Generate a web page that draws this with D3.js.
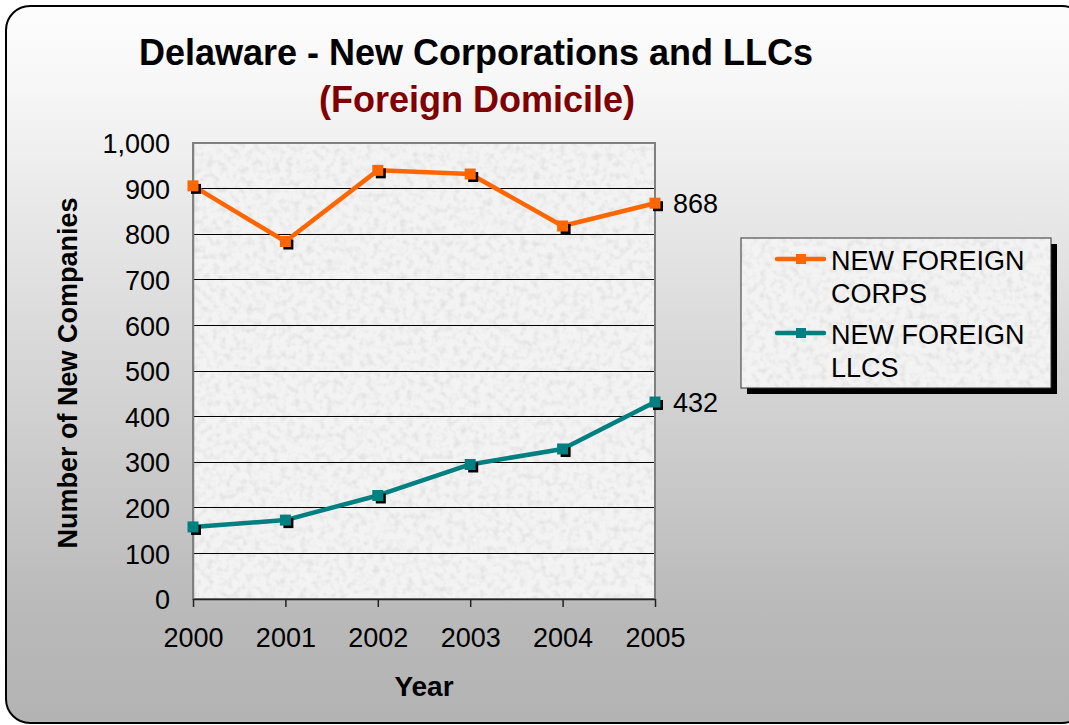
<!DOCTYPE html>
<html><head><meta charset="utf-8">
<script src="https://cdn.jsdelivr.net/npm/d3@7"></script>
<style>body{margin:0;background:#fff;}svg{display:block;font-family:"Liberation Sans",Arial,sans-serif;}</style>
</head><body>
<script>
const years = [2000, 2001, 2002, 2003, 2004, 2005];
const corps = [906, 784, 940, 932, 818, 868];
const llcs = [158, 173, 227, 295, 329, 432];
const yTicks = [0,100,200,300,400,500,600,700,800,900,1000];
const seriesNames = [["NEW FOREIGN","CORPS"],["NEW FOREIGN","LLCS"]];
const seriesColors = ["#ff6600","#008080"];

const W=1069,H=725;
const FS=27;
const svg=d3.select("body").append("svg").attr("width",W).attr("height",H);
const defs=svg.append("defs");
const g=defs.append("linearGradient").attr("id","bg").attr("x1",0).attr("y1",0).attr("x2",0).attr("y2",1);
g.append("stop").attr("offset","0%").attr("stop-color","#fdfdfd");
g.append("stop").attr("offset","12%").attr("stop-color","#f6f6f6");
g.append("stop").attr("offset","85%").attr("stop-color","#b9b9b9");
g.append("stop").attr("offset","100%").attr("stop-color","#b3b3b3");

const f=defs.append("filter").attr("id","noise").attr("x",0).attr("y",0).attr("width","100%").attr("height","100%");
f.append("feTurbulence").attr("type","fractalNoise").attr("baseFrequency","0.15").attr("numOctaves",2).attr("seed",3).attr("result","t");
f.append("feColorMatrix").attr("in","t").attr("type","matrix")
 .attr("values","0 0 0 0 0.6  0 0 0 0 0.6  0 0 0 0 0.6  0 0 0 -1.1 0.62").attr("result","n");
f.append("feFlood").attr("flood-color","#f3f3f3").attr("result","fl");
f.append("feComposite").attr("in","n").attr("in2","fl").attr("operator","over").attr("result","c");
f.append("feComposite").attr("in","c").attr("in2","SourceGraphic").attr("operator","in");

svg.append("rect").attr("x",6).attr("y",6).attr("width",1080).attr("height",717).attr("rx",24)
 .attr("fill","url(#bg)").attr("stroke","#000").attr("stroke-width",2);

svg.append("text").attr("x",476).attr("y",65).attr("text-anchor","middle").attr("font-weight","bold").attr("font-size",36).attr("fill","#000").text("Delaware - New Corporations and LLCs");
svg.append("text").attr("x",477).attr("y",112).attr("text-anchor","middle").attr("font-weight","bold").attr("font-size",36).attr("fill","#800000").text("(Foreign Domicile)");

const L=193,R=655,T=143,B=599;
const x=d3.scalePoint().domain(years).range([L,R]);
const y=d3.scaleLinear().domain([0,1000]).range([B,T]);

svg.append("rect").attr("x",L).attr("y",T).attr("width",R-L).attr("height",B-T).attr("fill","#fff").attr("filter","url(#noise)");
svg.append("g").selectAll("line").data(yTicks.filter(d=>d>0&&d<1000)).join("line")
 .attr("x1",L).attr("x2",R).attr("y1",d=>y(d)).attr("y2",d=>y(d)).attr("stroke","#000").attr("stroke-width",1).attr("shape-rendering","crispEdges");
svg.append("rect").attr("x",L).attr("y",T).attr("width",R-L).attr("height",B-T).attr("fill","none").attr("stroke","#808080").attr("stroke-width",1.5).attr("shape-rendering","crispEdges");

const ya=svg.append("g").attr("transform",`translate(${L},0)`).call(d3.axisLeft(y).tickValues(yTicks).tickSize(0).tickPadding(23).tickFormat(d3.format(",")));
ya.select(".domain").attr("stroke","#808080").attr("stroke-width",1.5);
ya.selectAll("text").attr("font-size",FS).attr("fill","#000").attr("font-family","Liberation Sans, Arial, sans-serif").attr("dy","0.36em");
const xa=svg.append("g").attr("transform",`translate(0,${B})`).call(d3.axisBottom(x).tickSize(8).tickPadding(21).tickSizeOuter(0));
xa.select(".domain").attr("stroke","#222").attr("stroke-width",1.5);
xa.selectAll(".tick line").attr("stroke","#222").attr("stroke-width",1.5);
xa.selectAll("text").attr("font-size",FS).attr("fill","#000").attr("font-family","Liberation Sans, Arial, sans-serif");

svg.append("text").attr("x",424).attr("y",696).attr("text-anchor","middle").attr("font-weight","bold").attr("font-size",28).text("Year");
svg.append("text").attr("transform","translate(77,373) rotate(-90)").attr("text-anchor","middle").attr("font-weight","bold").attr("font-size",FS).text("Number of New Companies");

const line=d3.line().x((d,i)=>x(years[i])).y(d=>y(d));
[corps,llcs].forEach((data,si)=>{
  const gg=svg.append("g");
  gg.append("path").datum(data).attr("d",line).attr("fill","none").attr("stroke",seriesColors[si]).attr("stroke-width",4.5).attr("stroke-linejoin","round");
  gg.selectAll("rect.sh").data(data).join("rect").attr("class","sh")
    .attr("x",(d,i)=>x(years[i])-2).attr("y",d=>y(d)-2).attr("width",10).attr("height",10).attr("fill","#000");
  gg.selectAll("rect.mk").data(data).join("rect").attr("class","mk")
    .attr("x",(d,i)=>x(years[i])-5.5).attr("y",d=>y(d)-5.5).attr("width",11).attr("height",11).attr("fill",seriesColors[si]);
  svg.append("text").attr("x",R+18).attr("y",y(data[data.length-1])+10).attr("font-size",FS).text(data[data.length-1]);
});

const lx=741,ly=238,lw=310,lh=150;
svg.append("rect").attr("x",lx+6).attr("y",ly+6).attr("width",lw).attr("height",lh).attr("fill","#000");
svg.append("rect").attr("x",lx).attr("y",ly).attr("width",lw).attr("height",lh).attr("fill","#fff").attr("filter","url(#noise)");
svg.append("rect").attr("x",lx).attr("y",ly).attr("width",lw).attr("height",lh).attr("fill","none").attr("stroke","#333").attr("stroke-width",1);
seriesNames.forEach((nm,i)=>{
  const cy=ly+21+i*74;
  svg.append("line").attr("x1",777).attr("x2",824).attr("y1",cy).attr("y2",cy).attr("stroke",seriesColors[i]).attr("stroke-width",4.5).attr("stroke-linecap","round");
  svg.append("rect").attr("x",796).attr("y",cy-5).attr("width",10).attr("height",10).attr("fill",seriesColors[i]);
  svg.append("text").attr("x",831).attr("y",cy+11).attr("font-size",FS).text(nm[0]);
  svg.append("text").attr("x",831).attr("y",cy+44).attr("font-size",FS).text(nm[1]);
});
</script>
</body></html>
